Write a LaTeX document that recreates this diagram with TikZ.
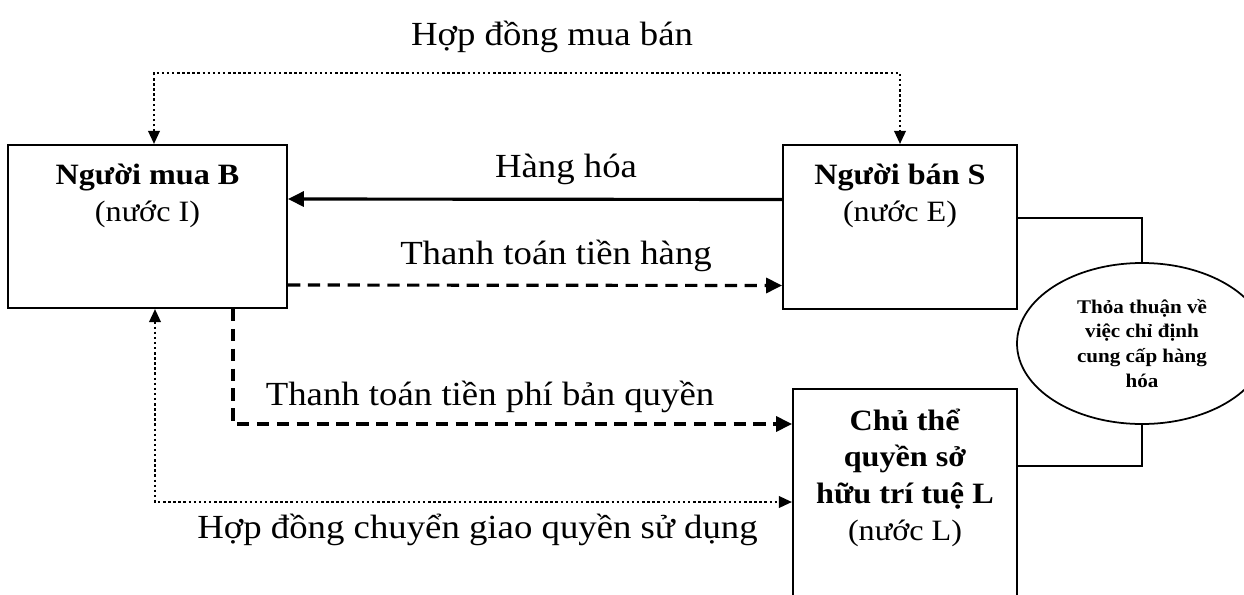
\documentclass[tikz,border=0pt]{standalone}
\usepackage{fontspec}
\setmainfont{Liberation Serif}[FakeStretch=1.09]
\usetikzlibrary{positioning,arrows.meta,shapes.geometric}
\tikzset{
  party/.style={rectangle,draw,line width=1.1pt,inner sep=0pt},
  partytext/.style={align=center,inner sep=0pt,anchor=base,font=\fontsize{16.8}{20.8}\selectfont},
  lbl/.style={inner sep=0pt,anchor=base,font=\fontsize{19.2}{23}\selectfont},
  agreement/.style={ellipse,draw,line width=1pt,minimum width=5cm,minimum height=3.22cm,
    align=center,inner sep=0pt,font=\bfseries\fontsize{11}{14.2}\selectfont},
  link/.style={line width=0.9pt}
}

\begin{document}
\begin{tikzpicture}[>={Triangle[length=9pt,width=8.5pt]},
    goods/.style={->,line width=1.8pt},
    pay/.style={->,line width=1.8pt,dash pattern=on 7pt off 4.3pt},
    contract/.style={{Triangle[length=7.5pt,width=6.5pt]}-{Triangle[length=7.5pt,width=6.5pt]},
      line width=1.4pt,dash pattern=on 1.4pt off 1.5pt}]
    \useasboundingbox (0,0) rectangle (24.88,11.88);

    % the three parties
    \node at (2.95, 7.35) [party, minimum width=5.58cm, minimum height=3.26cm] (buyer) {};
    \node at (18.0, 7.34) [party, minimum width=4.68cm, minimum height=3.28cm] (seller) {};
    \node at (18.1, 4.12) [party, anchor=north, minimum width=4.48cm, minimum height=5.6cm] (owner) {};
    % (base = last line of the text)
    \node at ([yshift=-1.54cm]buyer.north) [partytext] (buyertxt) {\textbf{Người mua B}\\(nước I)};
    \node at ([yshift=-1.54cm]seller.north) [partytext] (sellertxt) {\textbf{Người bán S}\\(nước E)};
    \node at ([yshift=-3.04cm]owner.north) [partytext] (ownertxt) {\textbf{Chủ thể}\\\textbf{quyền sở}\\\textbf{hữu trí tuệ L}\\(nước L)};
    \node at (22.84, 5.01) [agreement] (deal) {Thỏa thuận về\\việc chỉ định\\cung cấp hàng\\hóa};

    % flows between them
    \draw[contract] ([xshift=0.13cm]buyer.north) -- ++(0,1.42) -| (seller.north);
    \draw[goods] ([yshift=0.55cm]seller.west) -- ([yshift=0.55cm]buyer.east);
    \draw[pay] ([yshift=-1.17cm]buyer.east) -- ([yshift=-1.17cm]seller.west);
    \draw[pay] ([xshift=1.71cm]buyer.south) |- ([yshift=-0.72cm]owner.north west);
    \draw[contract] ([xshift=0.15cm]buyer.south) |- ([yshift=-2.28cm]owner.north west);
    \draw[link] ([yshift=0.18cm]seller.east) -| (deal.north);
    \draw[link] (deal.south) |- ([yshift=-1.56cm]owner.north east);

    % labels
    \node at (11.04, 10.98) [lbl] (salelbl) {Hợp đồng mua bán};
    \node at (11.32, 8.34) [lbl] (goodslbl) {Hàng hóa};
    \node at (11.12, 6.6) [lbl] (paylbl) {Thanh toán tiền hàng};
    \node at (9.8, 3.78) [lbl] (feelbl) {Thanh toán tiền phí bản quyền};
    \node at (9.55, 1.12) [lbl] (licencelbl) {Hợp đồng chuyển giao quyền sử dụng};
\end{tikzpicture}
\end{document}
